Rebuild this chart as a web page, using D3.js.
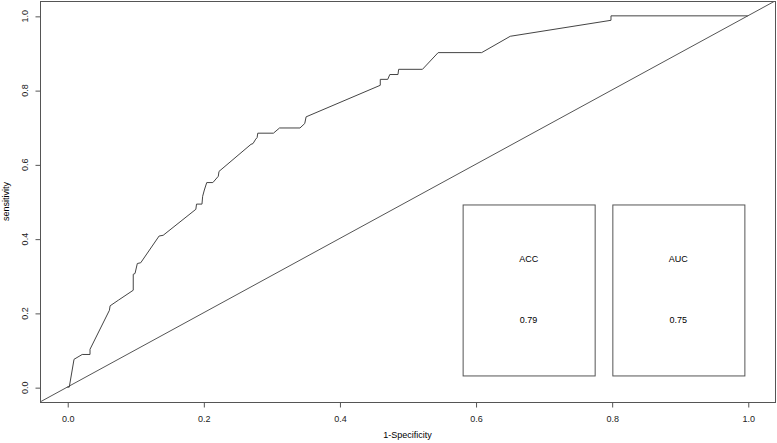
<!DOCTYPE html>
<html>
<head>
<meta charset="utf-8">
<script src="https://cdn.jsdelivr.net/npm/d3@7"></script>
<style>
  html, body { margin: 0; padding: 0; background: #fff; }
  svg { display: block; font-family: "Liberation Sans", Arial, Helvetica, sans-serif; }
</style>
</head>
<body>
<svg id="chart" width="777" height="443"></svg>
<script>
// ROC curve points (1-Specificity, sensitivity)
const fpr = [0, 0.003, 0.010, 0.022, 0.0335, 0.0335, 0.062, 0.063, 0.075, 0.097, 0.097, 0.0996, 0.103, 0.108,
  0.135, 0.141, 0.189, 0.190, 0.198, 0.199, 0.2015, 0.205, 0.214, 0.222, 0.223, 0.270, 0.273, 0.277, 0.279,
  0.280, 0.303, 0.312, 0.342, 0.349, 0.351, 0.460, 0.460, 0.471, 0.474, 0.486, 0.487, 0.522, 0.545, 0.609,
  0.651, 0.799, 0.799, 1];
const tpr = [0, 0, 0.075, 0.088, 0.088, 0.102, 0.207, 0.219, 0.234, 0.261, 0.304, 0.306, 0.333, 0.335,
  0.407, 0.409, 0.479, 0.493, 0.493, 0.514, 0.531, 0.551, 0.551, 0.568, 0.581, 0.654, 0.656, 0.668, 0.672,
  0.684, 0.684, 0.698, 0.698, 0.710, 0.728, 0.813, 0.829, 0.829, 0.842, 0.842, 0.856, 0.856, 0.901, 0.901,
  0.945, 0.988, 1.0, 1.0];

const xTicks = [0, 0.2, 0.4, 0.6, 0.8, 1.0];
const yTicks = [0, 0.2, 0.4, 0.6, 0.8, 1.0];
const xTickLabels = ["0.0", "0.2", "0.4", "0.6", "0.8", "1.0"];
const yTickLabels = ["0.0", "0.2", "0.4", "0.6", "0.8", "1.0"];

const metricNames = ["ACC", "AUC"];
const metricValues = ["0.79", "0.75"];
// metric panels in data coordinates
const panelX0 = [0.581, 0.801];
const panelX1 = [0.775, 0.995];
const panelY0 = 0.0315;
const panelY1 = 0.492;

const xLabel = "1-Specificity";
const yLabel = "sensitivity";

const svg = d3.select("#chart");
const L = 40, R = 775, T = 1, B = 402;
const col = "#555";

const x = d3.scaleLinear().domain([-0.04, 1.04]).range([L, R]);
const y = d3.scaleLinear().domain([-0.04, 1.04]).range([B, T]);

svg.append("clipPath").attr("id", "clip")
  .append("rect").attr("x", L).attr("y", T).attr("width", R - L).attr("height", B - T);

const g = svg.append("g").attr("clip-path", "url(#clip)");

// diagonal reference line
g.append("line")
  .attr("x1", x(-0.04)).attr("y1", y(-0.04))
  .attr("x2", x(1.04)).attr("y2", y(1.04))
  .attr("stroke", col).attr("stroke-width", 1);

// ROC curve
const pts = fpr.map((d, i) => [d, tpr[i]]);
g.append("path")
  .attr("d", d3.line().x(d => x(d[0])).y(d => y(d[1]))(pts))
  .attr("fill", "none").attr("stroke", "#444").attr("stroke-width", 1);

// metric panels
metricNames.forEach((name, i) => {
  const x0 = x(panelX0[i]), x1 = x(panelX1[i]);
  const y0 = y(panelY1), y1 = y(panelY0);
  g.append("rect")
    .attr("x", x0 + 0.5).attr("y", y0 + 0.5)
    .attr("width", x1 - x0).attr("height", y1 - y0)
    .attr("fill", "none").attr("stroke", col).attr("stroke-width", 1);
  const cx = (x0 + x1) / 2;
  g.append("text").attr("x", cx).attr("y", y0 + (y1 - y0) * 0.336)
    .attr("text-anchor", "middle").attr("font-size", 9).attr("fill", "#000").text(name);
  g.append("text").attr("x", cx).attr("y", y0 + (y1 - y0) * 0.693)
    .attr("text-anchor", "middle").attr("font-size", 9).attr("fill", "#000").text(metricValues[i]);
});

// plot box
svg.append("rect")
  .attr("x", L + 0.5).attr("y", T + 0.5)
  .attr("width", R - L).attr("height", B - T)
  .attr("fill", "none").attr("stroke", col).attr("stroke-width", 1);

// x axis
const xAxis = d3.axisBottom(x).tickValues(xTicks)
  .tickFormat((d, i) => xTickLabels[i]).tickSize(5).tickPadding(8);
const gx = svg.append("g").attr("transform", `translate(0.5,${B + 0.5})`).call(xAxis);
gx.select(".domain").remove();
gx.selectAll(".tick line").attr("stroke", col);
gx.selectAll(".tick text").attr("font-size", 9).attr("fill", "#222").attr("font-family", null);

// y axis (ticks from d3, labels rotated like R's las=0)
const yAxis = d3.axisLeft(y).tickValues(yTicks)
  .tickFormat((d, i) => yTickLabels[i]).tickSize(5);
const gy = svg.append("g").attr("transform", `translate(${L + 0.5},0.5)`).call(yAxis);
gy.select(".domain").remove();
gy.selectAll(".tick line").attr("stroke", col);
gy.selectAll(".tick text").remove();
yTicks.forEach((v, i) => {
  svg.append("text")
    .attr("transform", `translate(24.5,${y(v) + 0.5}) rotate(-90)`)
    .attr("dy", "0.35em")
    .attr("text-anchor", "middle").attr("font-size", 9).attr("fill", "#222")
    .text(yTickLabels[i]);
});

// axis labels
svg.append("text").attr("x", (L + R) / 2).attr("y", 438)
  .attr("text-anchor", "middle").attr("font-size", 9).attr("fill", "#000").text(xLabel);
svg.append("text")
  .attr("transform", `translate(9,${(T + B) / 2}) rotate(-90)`)
  .attr("text-anchor", "middle").attr("font-size", 9).attr("fill", "#000").text(yLabel);
</script>
</body>
</html>
